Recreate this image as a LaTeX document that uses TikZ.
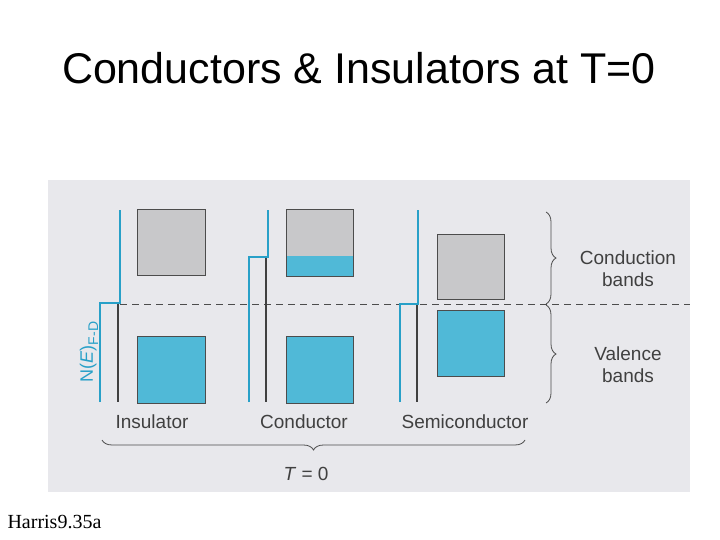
\documentclass[tikz,border=0pt]{standalone}
\usepackage{fontspec}
\setmainfont{Liberation Sans}
\newfontfamily\serifnote{Liberation Serif}
\usetikzlibrary{decorations.pathreplacing}
\definecolor{bandblue}{RGB}{80,185,215}
\definecolor{dosblue}{RGB}{40,160,200}
\definecolor{bandgrey}{RGB}{200,200,202}
\definecolor{scan}{RGB}{232,232,236}
\begin{document}
\begin{tikzpicture}[x=1pt,y=-1pt,
    EmptyBand/.style={draw=black!70, fill=bandgrey, inner sep=0, anchor=north west},
    FullBand/.style={draw=black!70, fill=bandblue, inner sep=0, anchor=north west},
    DosLine/.style={dosblue, line width=1.6pt},
    AxisLine/.style={black!75, line width=1.2pt},
    Label/.style={font=\fontsize{19}{22}\selectfont, text=black!75},
    Brace/.style={decorate, decoration={brace, amplitude=10pt}, black!70, thick}]
    % page and scanned figure
    \fill[white](0,0)rectangle(720,540);
    \fill[scan](48,180)rectangle(690,492);
    \node (title) at (359,68) {\fontsize{43}{48}\selectfont Conductors \& Insulators at T=0};
    \node[anchor=west] (note) at (4,522) {\serifnote\fontsize{20}{24}\selectfont Harris9.35a};

    % Fermi level
    \coordinate (ef_l) at (120,304);
    \coordinate (ef_r) at (690,304);
    \draw[black!70, thick, dash pattern=on 7pt off 5pt](ef_l)--(ef_r);

    % bands
    \node[EmptyBand, minimum width=68pt, minimum height=66pt] (ins_c) at (137,209) {};
    \node[FullBand, minimum width=68pt, minimum height=67pt] (ins_v) at (137,336) {};
    \node[EmptyBand, minimum width=67pt, minimum height=67pt] (con_c) at (286,209) {};
    \fill[bandblue](286,256)rectangle(353,276);
    \draw[black!70](286,209)rectangle(353,276);
    \node[FullBand, minimum width=67pt, minimum height=67pt] (con_v) at (286,336) {};
    \node[EmptyBand, minimum width=67pt, minimum height=65pt] (sem_c) at (437,234) {};
    \node[FullBand, minimum width=67pt, minimum height=66pt] (sem_v) at (437,310) {};

    % density of states
    \foreach \x/\y in {118/303, 266/257, 417/304}
        \draw[AxisLine](\x,\y)--(\x,402);
    \draw[DosLine](100,402)--(100,303)--(120,303)--(120,210);
    \draw[DosLine](249,402)--(249,257)--(268,257)--(268,210);
    \draw[DosLine](400,402)--(400,304)--(418,304)--(418,210);
    \node[rotate=90, text=dosblue, font=\fontsize{18}{20}\selectfont] (nef) at (89,352) {N(\textit{E})\raisebox{-0.3em}{\fontsize{14}{15}\selectfont F-D}};

    % labels
    \node[Label] (ins) at (152,422) {Insulator};
    \node[Label] (con) at (304,422) {Conductor};
    \node[Label] (sem) at (465,422) {Semiconductor};
    \draw[Brace](525,440)--(102,440);
    \node[Label] (tzero) at (306,474) {\textit{T} = 0};
    \draw[Brace](546,212)--(546,304);
    \draw[Brace](546,305)--(546,403);
    \node[Label, align=center] (cb) at (628,269) {Conduction\\bands};
    \node[Label, align=center] (vb) at (628,365) {Valence\\bands};
\end{tikzpicture}
\end{document}
